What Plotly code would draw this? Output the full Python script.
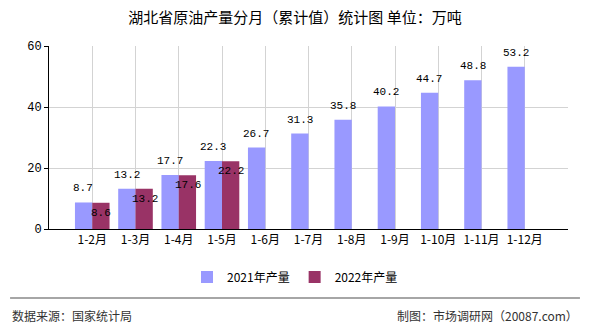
import plotly.graph_objects as go

categories = ["1-2月", "1-3月", "1-4月", "1-5月", "1-6月", "1-7月", "1-8月", "1-9月", "1-10月", "1-11月", "1-12月"]
values_2021 = [8.7, 13.2, 17.7, 22.3, 26.7, 31.3, 35.8, 40.2, 44.7, 48.8, 53.2]
values_2022 = [8.6, 13.2, 17.6, 22.2]
y_ticks = [0, 20, 40, 60]

CJK = "Noto Sans CJK SC"
MONO = "Liberation Mono"
idx = list(range(len(categories)))

fig = go.Figure()
fig.add_trace(go.Bar(x=idx, y=values_2021, name="2021年产量", marker=dict(color="#9999FF", line=dict(width=0))))
fig.add_trace(go.Bar(x=idx[:len(values_2022)], y=values_2022, name="2022年产量", marker=dict(color="#993366", line=dict(width=0))))

annotations = []
for i, v in enumerate(values_2021):
    annotations.append(dict(x=i, y=v, xref="x", yref="y", text=f"{v:.1f}", showarrow=False,
                            xanchor="center", yanchor="bottom", xshift=-9, yshift=6,
                            font=dict(family=MONO, size=11, color="#000")))
for i, v in enumerate(values_2022):
    annotations.append(dict(x=i, y=v, xref="x", yref="y", text=f"{v:.1f}", showarrow=False,
                            xanchor="center", yanchor="top", xshift=9, yshift=-2,
                            font=dict(family=MONO, size=11, color="#000")))
# footer
annotations.append(dict(x=-0.075, y=-0.475, xref="paper", yref="paper", text="数据来源：国家统计局", showarrow=False,
                        xanchor="left", yanchor="middle", font=dict(family=CJK, size=12, color="#333")))
annotations.append(dict(x=1.023, y=-0.475, xref="paper", yref="paper", text="制图：市场调研网（20087.com）", showarrow=False,
                        xanchor="right", yanchor="middle", font=dict(family=CJK, size=12, color="#333")))

shapes = [
    dict(type="line", xref="paper", yref="paper", x0=-0.075, x1=1.023, y0=-0.377, y1=-0.377,
         line=dict(color="#888888", width=1.5)),
    dict(type="line", xref="x", yref="y", x0=-1, x1=-1, y0=0, y1=-5, ysizemode="pixel", yanchor=0,
         line=dict(color="#000", width=1)),
    dict(type="line", xref="x", yref="y", x0=len(categories), x1=len(categories), y0=0, y1=-5,
         ysizemode="pixel", yanchor=0, line=dict(color="#000", width=1)),
]

fig.update_layout(
    width=590, height=330,
    margin=dict(l=49, r=22, t=46, b=101),
    paper_bgcolor="white", plot_bgcolor="white",
    barmode="group", bargap=0.2, bargroupgap=0,
    title=dict(text="湖北省原油产量分月（累计值）统计图 单位：万吨", x=0.5, xref="container", xanchor="center",
               y=1 - 18 / 330, yref="container", yanchor="middle",
               font=dict(family=CJK, size=15, color="#000")),
    legend=dict(orientation="h", x=0.5, xanchor="center", xref="container", y=1 - 277 / 330,
                yref="container", yanchor="middle", font=dict(family=CJK, size=12, color="#000"),
                itemwidth=30, traceorder="normal"),
    xaxis=dict(range=[-1, len(categories)], tickmode="array", tickvals=list(range(-1, len(categories) + 1)),
               ticktext=[""] + categories + [""], showgrid=True, gridcolor="#D3D3D3", gridwidth=1,
               showline=True, linecolor="#000", linewidth=1, ticks="", zeroline=False,
               tickfont=dict(family=CJK, size=12, color="#000")),
    yaxis=dict(range=[0, 60], tickmode="array", tickvals=y_ticks, showgrid=True, gridcolor="#D3D3D3",
               gridwidth=1, showline=True, linecolor="#000", linewidth=1, ticks="outside", ticklen=4,
               tickcolor="#000", zeroline=False, tickfont=dict(family=MONO, size=12, color="#000")),
    annotations=annotations, shapes=shapes,
)

fig.write_html("out.html")
